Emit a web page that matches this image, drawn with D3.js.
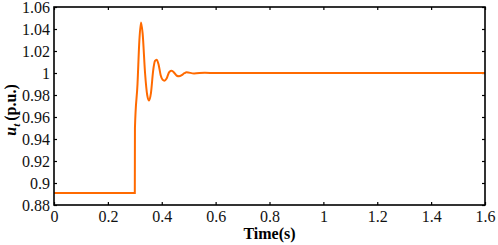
<!DOCTYPE html>
<html>
<head>
<meta charset="utf-8">
<script src="https://cdn.jsdelivr.net/npm/d3@7"></script>
<style>
  body { margin: 0; background: #fff; }
  svg { display: block; }
  svg text { font-family: "Liberation Serif", "Times New Roman", serif; }
</style>
</head>
<body>
<div id="chart"></div>
<script>
// Terminal voltage response
const time = [0, 0.3, 0.3005, 0.31, 0.317, 0.323, 0.329, 0.338, 0.346, 0.353, 0.36, 0.368, 0.375, 0.381,
  0.388, 0.396, 0.403, 0.41, 0.418, 0.428, 0.437, 0.447, 0.456, 0.464, 0.474, 0.484, 0.492, 0.52, 0.56, 0.6, 1.6]
const ut = [0.891, 0.891, 0.95, 0.99, 1.03, 1.046, 1.036, 1.0, 0.98, 0.975, 0.982, 1.002, 1.011, 1.012,
  1.008, 0.998, 0.994, 0.993, 0.995, 1.001, 1.002, 1.0, 0.9975, 0.997, 0.998, 0.9998, 1.0006, 0.9996, 1.0002, 1.0, 1.0]

const xTicks = [0, 0.2, 0.4, 0.6, 0.8, 1, 1.2, 1.4, 1.6]
const yTicks = [0.88, 0.9, 0.92, 0.94, 0.96, 0.98, 1, 1.02, 1.04, 1.06]

const width = 498
const height = 245
const margin = { top: 7, right: 13, bottom: 40, left: 54 }
const iw = width - margin.left - margin.right
const ih = height - margin.top - margin.bottom

const svg = d3.select("#chart")
  .append("svg")
  .attr("width", width)
  .attr("height", height)

const g = svg.append("g")
  .attr("transform", `translate(${margin.left},${margin.top})`)

const x = d3.scaleLinear().domain([0, 1.6]).range([0, iw])
const y = d3.scaleLinear().domain([0.88, 1.06]).range([ih, 0])

const fmt = d => String(+d.toFixed(2))

// Axes with inward ticks
const styleAxis = sel => {
  sel.attr("font-family", null).attr("font-size", null)
  sel.select(".domain").remove()
  sel.selectAll(".tick line").attr("stroke", "#000").attr("stroke-width", 1.2)
  sel.selectAll("text").style("font-size", "16px").attr("fill", "#111")
}

g.append("g")
  .attr("transform", `translate(0,${ih})`)
  .call(d3.axisBottom(x).tickValues(xTicks).tickFormat(fmt).tickSizeInner(-3).tickSizeOuter(0).tickPadding(6))
  .call(styleAxis)

g.append("g")
  .call(d3.axisTop(x).tickValues(xTicks).tickFormat("").tickSizeInner(-3).tickSizeOuter(0))
  .call(styleAxis)

g.append("g")
  .call(d3.axisLeft(y).tickValues(yTicks).tickFormat(fmt).tickSizeInner(-3).tickSizeOuter(0).tickPadding(4))
  .call(styleAxis)

g.append("g")
  .attr("transform", `translate(${iw},0)`)
  .call(d3.axisRight(y).tickValues(yTicks).tickFormat("").tickSizeInner(-3).tickSizeOuter(0))
  .call(styleAxis)

// Data line
const pts = time.map((t, i) => [t, ut[i]])
const line = d3.line()
  .x(d => x(d[0]))
  .y(d => y(d[1]))
  .curve(d3.curveMonotoneX)

g.append("path")
  .attr("d", line(pts))
  .attr("fill", "none")
  .attr("stroke", "#ff6a00")
  .attr("stroke-width", 2)

// Frame
g.append("rect")
  .attr("width", iw)
  .attr("height", ih)
  .attr("fill", "none")
  .attr("stroke", "#000")
  .attr("stroke-width", 1.6)

// Axis titles
svg.append("text")
  .attr("x", margin.left + iw / 2)
  .attr("y", 239)
  .attr("text-anchor", "middle")
  .style("font-size", "16px")
  .attr("font-weight", "bold")
  .text("Time(s)")

const yl = svg.append("text")
  .attr("transform", `translate(16,${margin.top + ih / 2 + 4}) rotate(-90)`)
  .attr("text-anchor", "middle")
  .style("font-size", "16px")
  .attr("font-weight", "bold")
yl.append("tspan").attr("font-style", "italic").text("u")
yl.append("tspan").attr("font-style", "italic").style("font-size", "11px").attr("dy", 4).text("t")
yl.append("tspan").attr("dy", -4).attr("dx", 3).text("(p.u.)")
</script>
</body>
</html>
